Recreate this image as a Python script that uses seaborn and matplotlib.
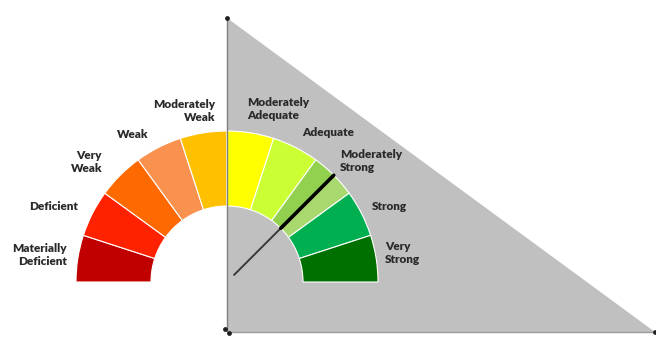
import matplotlib
matplotlib.use("Agg")
import matplotlib.pyplot as plt
import seaborn as sns
import numpy as np
import pandas as pd

# ---------------- data ----------------
categories = ["Materially\nDeficient", "Deficient", "Very\nWeak", "Weak", "Moderately\nWeak",
              "Moderately\nAdequate", "Adequate", "Moderately\nStrong", "Strong", "Very\nStrong"]
# slice sizes (degrees of the half-circle gauge); Moderately Strong is split in two shades
slice_values = [18, 18, 18, 18, 18, 18, 18, 9, 9, 18, 18, 180]
slice_colors = ["#c00000", "#ff2200", "#ff6a00", "#f9914f", "#ffc000",
                "#ffff00", "#ccff33", "#92d050", "#a9d86e", "#00b050", "#007000", "none"]
needle_angle = 45  # degrees from the right end of the gauge

# background triangle (scatter/area series), in figure-pixel space (y up)
tri_x = [227, 227, 655]
tri_y = [323, 9, 9]
vertex_x = [227, 225, 229, 655]
vertex_y = [323, 12, 8, 9]

# ---------------- layout ----------------
W, H = 656, 341
CX, CY = 227, 341 - 282
R_OUT, R_IN = 151, 76
label_pos = [  # (x, y_pixel_from_top, ha)
    (67, 255, "right"), (78, 206, "right"), (102, 162, "right"), (148, 135, "right"),
    (215, 111, "right"),
    (247, 109, "left"), (302, 132, "left"), (340, 161, "left"), (372, 207, "left"),
    (385, 253, "left"),
]

sns.set_theme(style="white")
plt.rcParams["font.family"] = ["Lato", "DejaVu Sans"]

fig = plt.figure(figsize=(W / 100, H / 100), dpi=100)
ax = fig.add_axes([0, 0, 1, 1])

# triangle
ax.fill(tri_x, tri_y, color="#c0c0c0", zorder=1, linewidth=0)
# axis lines of the triangle chart
ax.plot([tri_x[0], tri_x[1]], [tri_y[0], tri_y[1]], color="#7f7f7f", lw=1.0, zorder=2)
ax.plot([tri_x[1], tri_x[2]], [tri_y[1], tri_y[2]], color="#9a9a9a", lw=1.0, zorder=2)
sns.scatterplot(x=vertex_x, y=vertex_y, ax=ax, color="#202020", s=12, linewidth=0, zorder=3)

# gauge donut
ax.pie(slice_values, colors=slice_colors, startangle=180, counterclock=False,
       radius=R_OUT, center=(CX, CY), frame=True,
       wedgeprops=dict(width=R_OUT - R_IN, edgecolor="white", linewidth=0.8))
# the hidden bottom half must not have an edge
ax.patches[-1].set_edgecolor("none")

# needle
a = np.deg2rad(needle_angle)
ax.plot([CX + 10 * np.cos(a), CX + R_IN * np.cos(a)],
        [CY + 10 * np.sin(a), CY + R_IN * np.sin(a)], color="#3a3a3a", lw=1.4, zorder=5)
ax.plot([CX + R_IN * np.cos(a), CX + R_OUT * np.cos(a)],
        [CY + R_IN * np.sin(a), CY + R_OUT * np.sin(a)], color="black", lw=2.6, zorder=5)

# labels
for txt, (x, yp, ha) in zip(categories, label_pos):
    ax.text(x, H - yp, txt, ha=ha, va="center", multialignment=ha,
            fontsize=8.5, fontweight="heavy", color="#2a2a2a", linespacing=1.25, zorder=6)

ax.set_xlim(0, W)
ax.set_ylim(0, H)
ax.set_aspect("auto")
ax.axis("off")
fig.savefig("out.png", dpi=100, facecolor="white")
